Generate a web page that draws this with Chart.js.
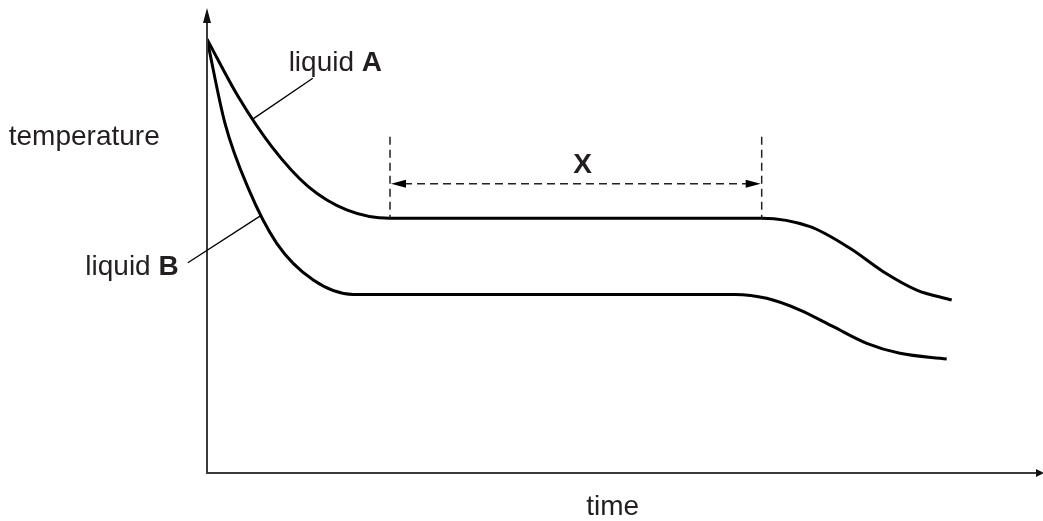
<!DOCTYPE html>
<html>
<head>
<meta charset="utf-8">
<script src="https://cdn.jsdelivr.net/npm/chart.js@4"></script>
<style>
  html, body { margin: 0; padding: 0; background: #fff; }
  #wrap { width: 1043px; height: 521px; }
</style>
</head>
<body>
<div id="wrap"><canvas id="cooling" width="1043" height="521"></canvas></div>
<script>
// values (time and temperature in arbitrary units 0-100)
const timeA = [0, 3.76, 7.77, 12.16, 16.77, 21.97, 66.59, 72.4, 77.19, 81.19, 85.2, 89.4];
const tempA = [93.3, 80.9, 70.2, 61.6, 56.6, 54.8, 54.8, 52.97, 48.32, 43.29, 39.35, 37.2];
const timeB = [0, 2.16, 4.96, 8.37, 12.76, 17.56, 63.4, 67.19, 71.19, 75.19, 79.2, 83.19, 88.8];
const tempB = [93.3, 75.2, 61.2, 49.4, 41.5, 38.4, 38.4, 37.57, 35.05, 31.46, 27.89, 25.74, 24.52];

// the plateau X marked on liquid A
const plateauStart = 21.97;
const plateauEnd = 66.59;

function toPoints(xs, ys) {
    return xs.map((x, i) => ({ x: x, y: ys[i] }));
}

function arrowHead(ctx, x, y, dir, len, half) {
    ctx.beginPath();
    if (dir === "up") {
        ctx.moveTo(x, y); ctx.lineTo(x - half, y + len); ctx.lineTo(x + half, y + len);
    } else if (dir === "right") {
        ctx.moveTo(x, y); ctx.lineTo(x - len, y - half); ctx.lineTo(x - len, y + half);
    } else {
        ctx.moveTo(x, y); ctx.lineTo(x + len, y - half); ctx.lineTo(x + len, y + half);
    }
    ctx.closePath();
    ctx.fill();
}

// axes with arrows, labels, leader lines and the X marker
const sketchPlugin = {
    id: "sketch",
    afterDatasetsDraw(chart) {
        const ctx = chart.ctx;
        const sx = chart.scales.x, sy = chart.scales.y;
        const px = v => sx.getPixelForValue(v);
        const py = v => sy.getPixelForValue(v);
        const area = chart.chartArea;
        const x0 = px(0), y0 = py(0);

        ctx.save();
        // axes
        ctx.strokeStyle = "#3a3a3a";
        ctx.fillStyle = "#111";
        ctx.lineWidth = 2;
        ctx.beginPath();
        ctx.moveTo(x0, y0 + 1);
        ctx.lineTo(x0, area.top + 10);
        ctx.moveTo(x0 - 1, y0);
        ctx.lineTo(area.right + 2, y0);
        ctx.stroke();
        arrowHead(ctx, x0, area.top, "up", 15, 4);
        arrowHead(ctx, area.right + 4, y0, "right", 8, 4);

        // leader lines
        ctx.strokeStyle = "#000";
        ctx.lineWidth = 1.3;
        ctx.beginPath();
        ctx.moveTo(px(12.7), py(84.9));
        ctx.lineTo(px(5.4), py(76.0));
        ctx.moveTo(px(-2.3), py(45.2));
        ctx.lineTo(px(6.5), py(55.4));
        ctx.stroke();

        // dashed marker for X
        ctx.strokeStyle = "#222";
        ctx.lineWidth = 1.5;
        ctx.setLineDash([8, 5]);
        ctx.beginPath();
        ctx.moveTo(px(plateauStart), py(72.3));
        ctx.lineTo(px(plateauStart), py(54.8));
        ctx.moveTo(px(plateauEnd), py(72.3));
        ctx.lineTo(px(plateauEnd), py(54.8));
        ctx.moveTo(px(plateauStart) + 14, py(62.2));
        ctx.lineTo(px(plateauEnd) - 14, py(62.2));
        ctx.stroke();
        ctx.setLineDash([]);
        ctx.fillStyle = "#000";
        arrowHead(ctx, px(plateauStart) + 1, py(62.2), "left", 15, 4);
        arrowHead(ctx, px(plateauEnd) - 1, py(62.2), "right", 15, 4);

        // texts
        ctx.fillStyle = "#231f20";
        ctx.textBaseline = "alphabetic";
        const reg = "28px 'Liberation Sans', Arial, sans-serif";
        const bold = "bold 28px 'Liberation Sans', Arial, sans-serif";

        ctx.font = reg;
        ctx.textAlign = "left";
        ctx.fillText("temperature", px(-23.8), py(70.5));
        ctx.textAlign = "center";
        ctx.fillText("time", px(48.7), py(-9.0));

        ctx.font = bold;
        ctx.fillText("X", px(45.1), py(64.5));

        // liquid A
        ctx.textAlign = "left";
        ctx.font = reg;
        const la = "liquid ";
        const ax = px(9.8), ay = py(86.5);
        ctx.fillText(la, ax, ay);
        const wa = ctx.measureText(la).width;
        ctx.font = bold;
        ctx.fillText("A", ax + wa, ay);

        // liquid B (right aligned)
        ctx.font = bold;
        const wb = ctx.measureText("B").width;
        const bx = px(-3.4), by = py(42.6);
        ctx.textAlign = "right";
        ctx.fillText("B", bx, by);
        ctx.font = reg;
        ctx.fillText("liquid ", bx - wb, by);
        ctx.restore();
    }
};

const chart = new Chart(document.getElementById("cooling").getContext("2d"), {
    type: "line",
    data: {
        datasets: [{
            label: "liquid A",
            data: toPoints(timeA, tempA),
            borderColor: "#000",
            borderWidth: 3,
            borderJoinStyle: "round",
            pointRadius: 0,
            cubicInterpolationMode: "monotone",
            fill: false
        }, {
            label: "liquid B",
            data: toPoints(timeB, tempB),
            borderColor: "#000",
            borderWidth: 3,
            borderJoinStyle: "round",
            pointRadius: 0,
            cubicInterpolationMode: "monotone",
            fill: false
        }]
    },
    options: {
        responsive: false,
        devicePixelRatio: 1,
        animation: false,
        layout: {
            padding: { left: 207, right: 3, top: 8, bottom: 48 }
        },
        scales: {
            x: { type: "linear", min: 0, max: 100, display: false },
            y: { type: "linear", min: 0, max: 100, display: false }
        },
        plugins: {
            legend: { display: false },
            tooltip: { enabled: false }
        }
    },
    plugins: [sketchPlugin]
});
</script>
</body>
</html>
